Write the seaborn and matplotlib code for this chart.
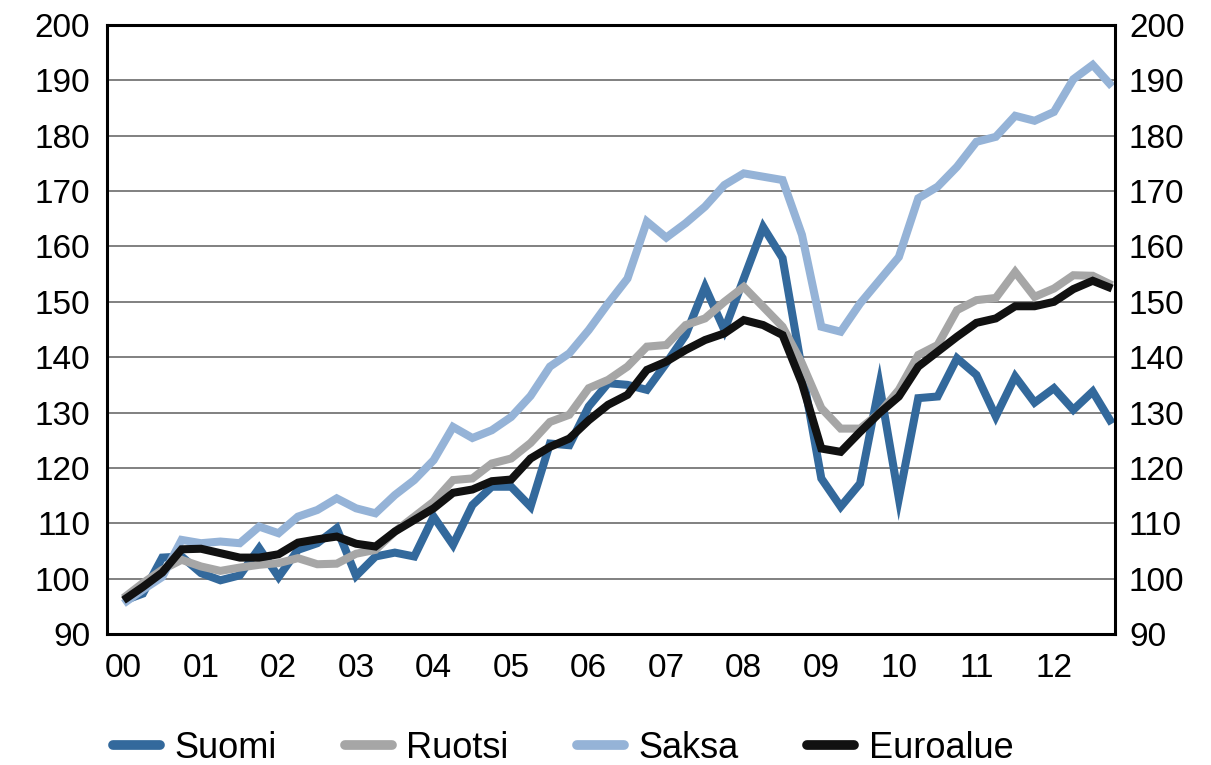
import matplotlib
matplotlib.use("Agg")
import matplotlib.pyplot as plt
import seaborn as sns
import pandas as pd
import numpy as np
from matplotlib.lines import Line2D

years = ["00", "01", "02", "03", "04", "05", "06", "07", "08", "09", "10", "11", "12"]
series_names = ["Suomi", "Ruotsi", "Saksa", "Euroalue"]

suomi = [96, 97.3, 103.8, 104, 101, 99.7, 100.6, 105.5, 100.3, 105.2,
         106.4, 109.1, 100.5, 104, 104.7, 104, 111.2, 106.1, 113.3, 116.6,
         116.6, 113, 124.4, 124.1, 131.1, 135.3, 135, 134.1, 138.9, 144,
         152.7, 144.9, 154.2, 163.5, 157.9, 137.7, 118.1, 113, 117.2, 135,
         114.5, 132.6, 132.9, 139.8, 136.8, 129.3, 136.5, 131.8, 134.4, 130.5,
         133.8, 128]
ruotsi = [96.5, 99.2, 101.6, 103.4, 102.2, 101.4, 102, 102.5, 102.8, 103.7,
          102.6, 102.7, 104.5, 105.2, 108.5, 111.2, 113.9, 117.8, 118.1, 120.8,
          121.7, 124.5, 128.3, 129.6, 134.4, 135.9, 138.3, 141.9, 142.2, 145.8,
          147, 150, 152.7, 149.1, 145.5, 138.9, 130.8, 127.1, 127.1, 129.9,
          134.1, 140.4, 142.2, 148.5, 150.3, 150.7, 155.4, 150.9, 152.4, 154.8,
          154.7, 153]
saksa = [95.5, 98, 100.3, 107, 106.4, 106.7, 106.4, 109.4, 108.2, 111.2,
         112.4, 114.5, 112.7, 111.8, 115.1, 117.8, 121.4, 127.4, 125.4, 126.8,
         129.2, 133, 138.3, 140.7, 144.9, 149.7, 154.2, 164.5, 161.6, 164.2,
         167.2, 171.1, 173.2, 172.6, 172, 162.1, 145.5, 144.6, 149.7, 153.9,
         158.1, 168.7, 170.8, 174.4, 178.9, 179.8, 183.6, 182.7, 184.3, 190.2,
         192.8, 188.9]
euroalue = [96.1, 98.5, 101.1, 105.3, 105.4, 104.6, 103.8, 103.8, 104.4, 106.5,
            107.1, 107.6, 106.3, 105.8, 108.5, 110.6, 112.7, 115.5, 116.1, 117.6,
            117.9, 121.7, 123.8, 125.3, 128.6, 131.4, 133.2, 137.7, 139.2, 141.3,
            143.1, 144.3, 146.7, 145.8, 144, 135.3, 123.5, 122.9, 126.5, 129.9,
            132.9, 138.3, 141, 143.7, 146.2, 147, 149.2, 149.2, 150, 152.3,
            153.8, 152.4]

y_ticks = list(range(90, 201, 10))

colors = {"Suomi": "#33699C", "Ruotsi": "#A6A6A6", "Saksa": "#95B3D7", "Euroalue": "#111111"}

n = len(suomi)
q = np.arange(n)
df = pd.DataFrame({
    "q": np.tile(q, 4),
    "value": suomi + ruotsi + saksa + euroalue,
    "series": np.repeat(series_names, n),
})

sns.set_style("white")
plt.rcParams["font.family"] = ["Liberation Sans", "DejaVu Sans"]
plt.rcParams["text.color"] = "black"
plt.rcParams["xtick.color"] = "black"
plt.rcParams["ytick.color"] = "black"

W, H = 1211, 765
fig = plt.figure(figsize=(W / 100, H / 100), dpi=100)
left, right, top, bottom = 107, 1115, 25, 634
ax = fig.add_axes([left / W, 1 - bottom / H, (right - left) / W, (bottom - top) / H])

sns.lineplot(data=df, x="q", y="value", hue="series", hue_order=series_names,
             palette=colors, linewidth=5.8, ax=ax, legend=False,
             solid_capstyle="butt", solid_joinstyle="miter")

ax.set_xlim(-0.85, 51.15)
ax.set_ylim(90, 200)
ax.set_yticks(y_ticks)
ax.set_yticklabels([str(v) for v in y_ticks], fontsize=24, color="black")
ax.yaxis.grid(True, color="#808080", linewidth=1.4)
ax.set_axisbelow(True)
ax.tick_params(axis="y", length=0, pad=12, labelcolor="black")

ax.set_xticks(np.arange(0, 49, 4))
ax.set_xticklabels(years, fontsize=24, color="black")
ax.tick_params(axis="x", which="major", length=0, pad=14, labelcolor="black")
ax.set_xticks(-0.85 + 4 * np.arange(14), minor=True)
ax.tick_params(axis="x", which="minor", direction="in", length=11, width=2, color="black")
ax.set_xlabel("")
ax.set_ylabel("")

for s in ax.spines.values():
    s.set_visible(True)
    s.set_color("black")
    s.set_linewidth(2.2)

ax2 = ax.twinx()
ax2.set_ylim(90, 200)
ax2.set_yticks(y_ticks)
ax2.set_yticklabels([str(v) for v in y_ticks], fontsize=24, color="black")
ax2.tick_params(axis="y", length=0, pad=10, labelcolor="black")
for s in ax2.spines.values():
    s.set_visible(False)

handles = [Line2D([0], [0], color=colors[s], linewidth=7, solid_capstyle="round") for s in series_names]
leg = fig.legend(handles, series_names, loc="center", bbox_to_anchor=(0.465, 1 - 748 / H),
                 ncol=4, frameon=False, fontsize=26, handlelength=1.3, handletextpad=0.4,
                 columnspacing=1.9)
for t in leg.get_texts():
    t.set_color("black")

fig.savefig("out.png", dpi=100)
